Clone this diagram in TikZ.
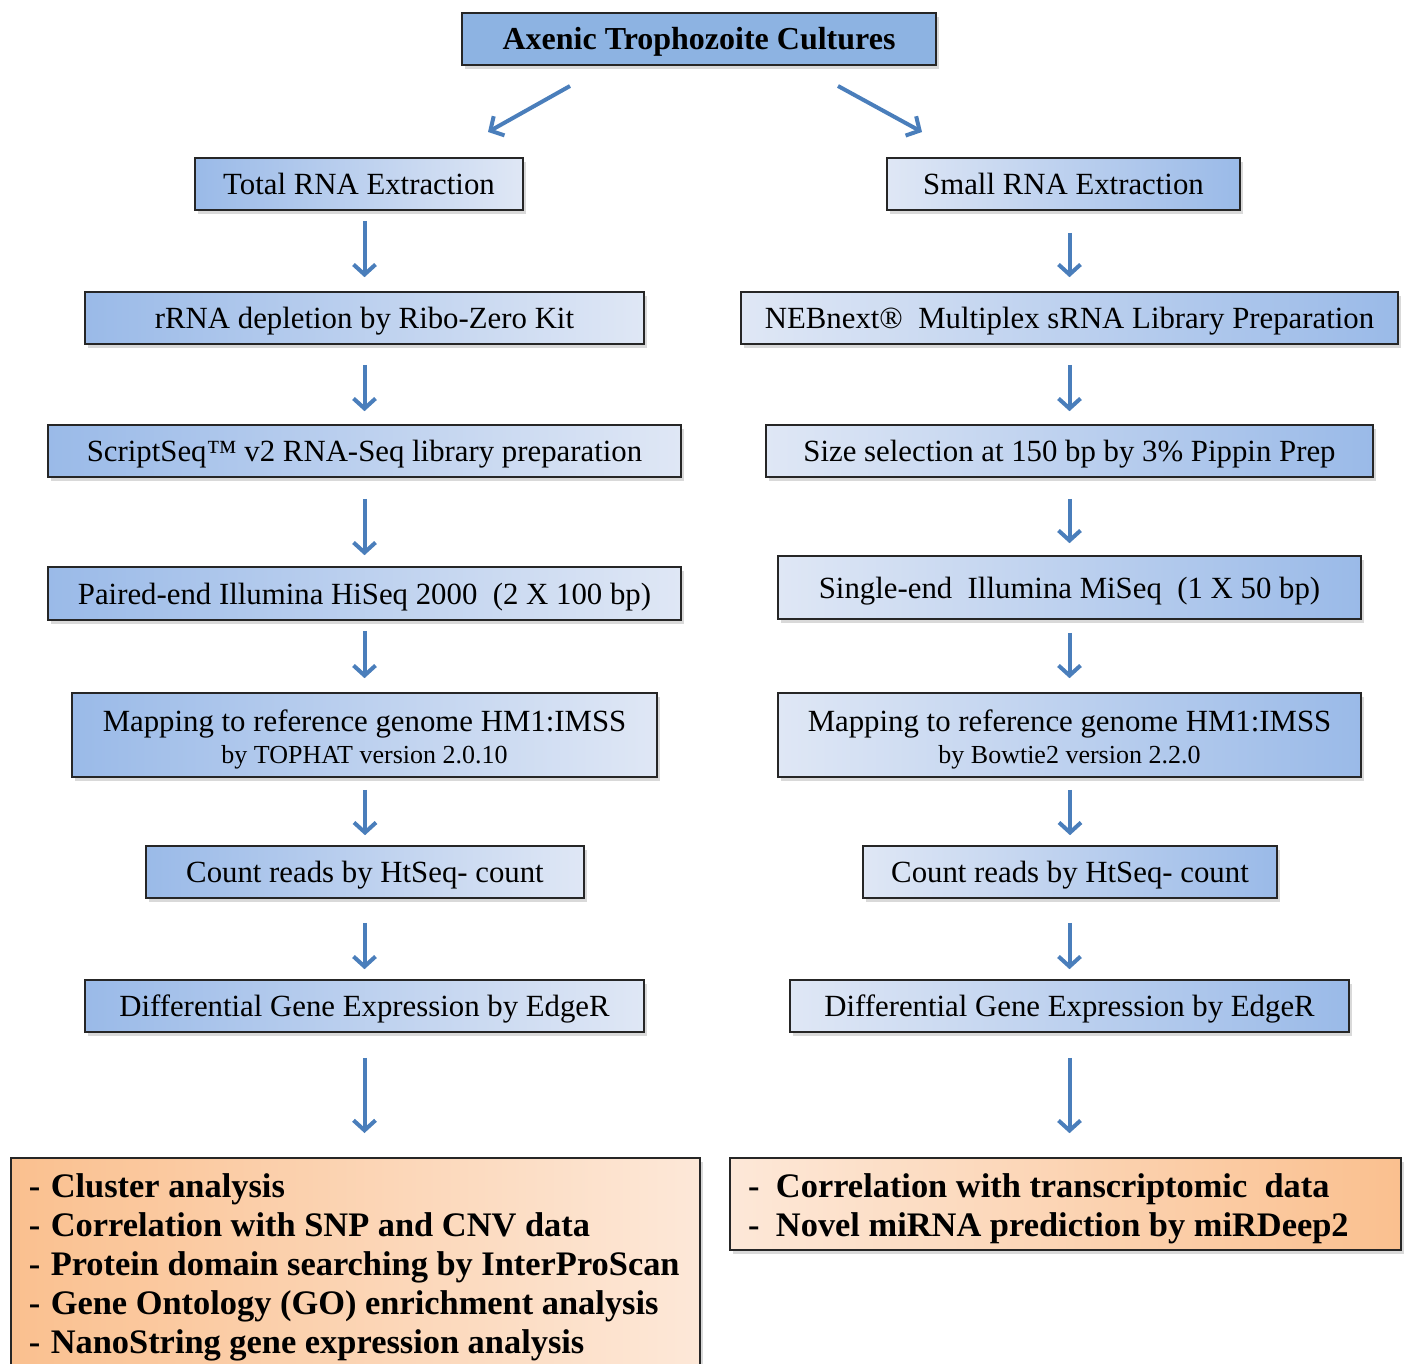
\documentclass[tikz,border=0pt]{standalone}
\usepackage{fontspec}
\setmainfont{Liberation Serif}
\usetikzlibrary{arrows.meta,shadows}

\definecolor{arrowblue}{HTML}{4A7EBB}
\definecolor{topblue}{HTML}{8DB3E2}
\definecolor{boxdark}{HTML}{9ABAE8}
\definecolor{boxpale}{HTML}{DFE7F5}
\definecolor{orangedark}{HTML}{FAC08F}
\definecolor{orangepale}{HTML}{FDE8D8}

\begin{document}
\begin{tikzpicture}[x=1pt,y=-1pt,
  box/.style={draw=black!85,line width=1.6pt,inner sep=0pt,minimum height=52pt,
    align=center,font=\fontsize{30.8}{33}\selectfont,text height=26pt,text depth=5pt,
    drop shadow={shadow xshift=3pt,shadow yshift=-4pt,opacity=0.3}},
  lbox/.style={box,left color=boxdark,right color=boxpale},
  rbox/.style={box,left color=boxpale,right color=boxdark},
  twolines/.style={text height={},text depth={},minimum height=84pt},
  outbox/.style={box,text height={},text depth={},align=flush left,inner xsep=0pt,
    font=\fontsize{34.4}{39}\selectfont\bfseries},
  flow/.style={draw=arrowblue,line width=4pt,-{Straight Barb[length=10pt,width=22pt]}}]
\useasboundingbox (0,0) rectangle (1410,1364);

% Start
\node[box,fill=topblue,minimum width=474pt,font=\fontsize{32}{34}\selectfont\bfseries] (axenic) at (699,39) {Axenic Trophozoite Cultures};

% Total RNA branch
\node[lbox,minimum width=328pt] (tre) at (359,184) {Total RNA Extraction};
\node[lbox,minimum width=559pt] (rdep) at (364.5,318) {rRNA depletion by Ribo-Zero Kit};
\node[lbox,minimum width=633pt] (sseq) at (364.5,451) {ScriptSeq™ v2 RNA-Seq library preparation};
\node[lbox,minimum width=633pt,minimum height=53pt] (pend) at (364.5,593.5) {Paired-end Illumina HiSeq 2000\ \ (2 X 100 bp)};
\node[lbox,twolines,minimum width=585pt] (lmap) at (364.5,735) {\rule{0pt}{31pt}Mapping to reference genome HM1:IMSS\\[-1pt]{\fontsize{26}{28}\selectfont by TOPHAT version 2.0.10}};
\node[lbox,minimum width=438pt] (lcount) at (365,872) {Count reads by HtSeq- count};
\node[lbox,minimum width=559pt] (ldge) at (364.5,1006) {Differential Gene Expression by EdgeR};
\node[outbox,anchor=north west,text width=689pt,inner ysep=16pt,left color=orangedark,right color=orangepale] (lout) at (10,1157)
  {\hspace*{18pt}\makebox[22pt][l]{-}Cluster analysis\\
   \hspace*{18pt}\makebox[22pt][l]{-}Correlation with SNP and CNV data\\
   \hspace*{18pt}\makebox[22pt][l]{-}Protein domain searching by InterProScan\\
   \hspace*{18pt}\makebox[22pt][l]{-}Gene Ontology (GO) enrichment analysis\\
   \hspace*{18pt}\makebox[22pt][l]{-}NanoString gene expression analysis};

% Small RNA branch
\node[rbox,minimum width=353pt] (sre) at (1063.5,184) {Small RNA Extraction};
\node[rbox,minimum width=657pt] (neb) at (1069.5,318) {NEBnext®\ \ Multiplex sRNA Library Preparation};
\node[rbox,minimum width=607pt] (sizesel) at (1069.5,451) {Size selection at 150 bp by 3\% Pippin Prep};
\node[rbox,minimum width=583pt,minimum height=63pt] (send) at (1069.5,587.5) {Single-end\ \ Illumina MiSeq\ \ (1 X 50 bp)};
\node[rbox,twolines,minimum width=583pt] (rmap) at (1069.5,735) {\rule{0pt}{31pt}Mapping to reference genome HM1:IMSS\\[-1pt]{\fontsize{26}{28}\selectfont by Bowtie2 version 2.2.0}};
\node[rbox,minimum width=414pt] (rcount) at (1070,872) {Count reads by HtSeq- count};
\node[rbox,minimum width=559pt] (rdge) at (1069.5,1006) {Differential Gene Expression by EdgeR};
\node[outbox,text width=671pt,minimum height=92pt,left color=orangepale,right color=orangedark] (rout) at (1065.5,1204)
  {\rule{0pt}{34pt}\hspace*{18pt}\makebox[28pt][l]{-}Correlation with transcriptomic\ \ data\\
   \hspace*{18pt}\makebox[28pt][l]{-}Novel miRNA prediction by miRDeep2};

% Split arrows
\coordinate (lsplit) at (570,86);
\coordinate (ltip) at (488,132);
\coordinate (rsplit) at (838,86);
\coordinate (rtip) at (922,132);
\draw[flow] (lsplit) -- (ltip);
\draw[flow] (rsplit) -- (rtip);

% Step arrows
\foreach \a/\b/\s/\e in {tre/rdep/10/14, rdep/sseq/20/13, sseq/pend/21/11, pend/lmap/10/14,
    lmap/lcount/12/10, lcount/ldge/24/10, sre/neb/22/14, neb/sizesel/20/13,
    sizesel/send/21/12, send/rmap/13/14, rmap/rcount/12/10, rcount/rdge/24/10}
  \draw[flow,shorten <=\s,shorten >=\e] (\a.south -| \b.north) -- (\b.north);
\draw[flow,shorten <=25,shorten >=24] (ldge.south) -- (ldge.south |- lout.north);
\draw[flow,shorten <=25,shorten >=24] (rdge.south) -- (rdge.south |- rout.north);
\end{tikzpicture}
\end{document}
